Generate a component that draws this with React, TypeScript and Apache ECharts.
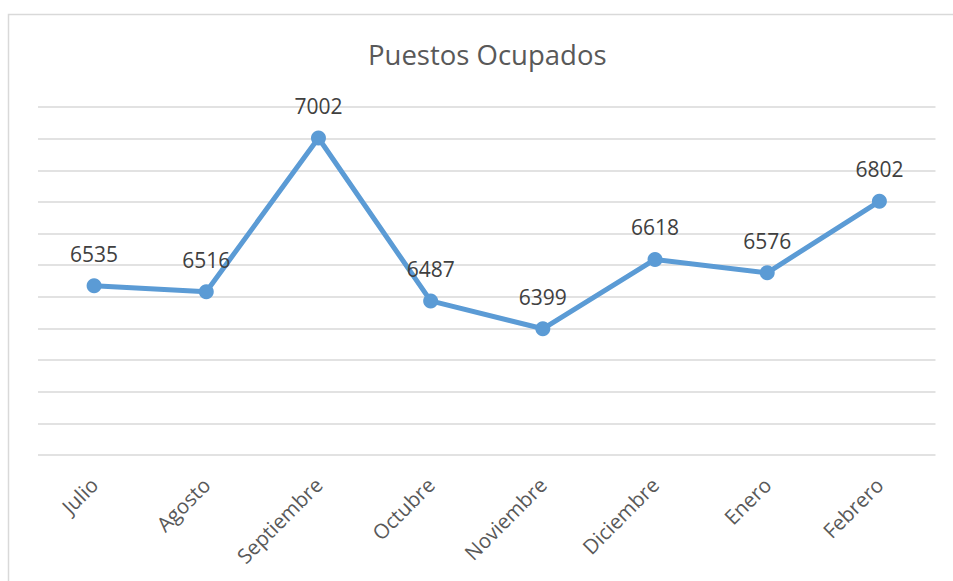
import React, { useEffect, useRef } from "react";
import * as echarts from "echarts";

const categories = ["Julio", "Agosto", "Septiembre", "Octubre", "Noviembre", "Diciembre", "Enero", "Febrero"];
const values = [6535, 6516, 7002, 6487, 6399, 6618, 6576, 6802];
const titleText = "Puestos Ocupados";

export default function App() {
  const ref = useRef<HTMLDivElement>(null);
  useEffect(() => {
    if (!ref.current) return;
    const chart = echarts.init(ref.current, undefined, { renderer: "svg" });
    chart.setOption({
      animation: false,
      backgroundColor: "#ffffff",
      title: {
        text: titleText,
        left: 363,
        top: 35,
        textStyle: { fontFamily: "Open Sans", fontSize: 27.5, fontWeight: "normal", color: "#595959" },
      },
      graphic: [
        {
          type: "rect",
          shape: { x: 8.5, y: 14.5, width: 1200, height: 1200 },
          style: { fill: "none", stroke: "#d9d9d9", lineWidth: 1.5 },
          silent: true,
        },
      ],
      grid: { left: 38, right: 17.5, top: 107, bottom: 126 },
      xAxis: {
        type: "category",
        data: categories,
        boundaryGap: true,
        axisLine: { show: false },
        axisTick: { show: false },
        axisLabel: {
          rotate: 45,
          margin: 26,
          interval: 0,
          color: "#595959",
          fontFamily: "Open Sans",
          fontSize: 20.5,
        },
      },
      yAxis: {
        type: "value",
        min: 6000,
        max: 7100,
        interval: 100,
        axisLabel: { show: false },
        axisLine: { show: false },
        axisTick: { show: false },
        splitLine: { lineStyle: { color: "#d9d9d9", width: 1.5 } },
      },
      series: [
        {
          type: "line",
          data: values,
          symbol: "circle",
          symbolSize: 15,
          lineStyle: { color: "#5b9bd5", width: 5 },
          itemStyle: { color: "#5b9bd5" },
          label: {
            show: true,
            position: "top",
            distance: 14,
            color: "#404040",
            fontFamily: "Open Sans",
            fontSize: 21,
          },
        },
      ],
    });
    return () => chart.dispose();
  }, []);
  return <div ref={ref} style={{ position: "fixed", left: 0, top: 0, width: 953, height: 581 }} />;
}
